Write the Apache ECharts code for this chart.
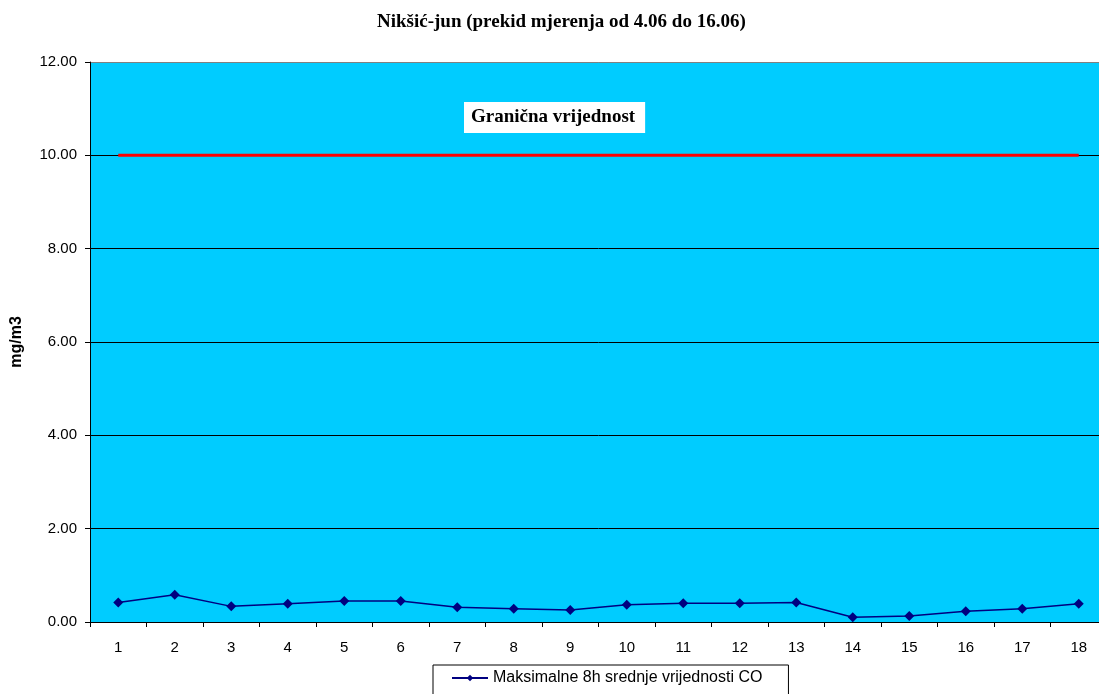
<!DOCTYPE html>
<html>
<head>
<meta charset="utf-8">
<script src="https://cdn.jsdelivr.net/npm/echarts@6/dist/echarts.min.js"></script>
<style>html,body{margin:0;padding:0;background:#fff;overflow:hidden;}#c{width:1107px;height:694px;}</style>
</head>
<body>
<div id="c"></div>
<script>
var categories = ['1','2','3','4','5','6','7','8','9','10','11','12','13','14','15','16','17','18'];
var coValues = [0.42,0.585,0.335,0.39,0.45,0.45,0.315,0.285,0.257,0.37,0.40,0.40,0.42,0.10,0.13,0.23,0.285,0.39];
var limitValues = [10,10,10,10,10,10,10,10,10,10,10,10,10,10,10,10,10,10];
var yTicks = [0,2,4,6,8,10,12];
var titleText = 'Nikšić-jun (prekid mjerenja od 4.06 do 16.06)';
var seriesName = 'Maksimalne 8h srednje vrijednosti CO';
var limitLabel = 'Granična vrijednost';
var yName = 'mg/m3';

var chart = echarts.init(document.getElementById('c'));
chart.setOption({
  animation: false,
  backgroundColor: '#ffffff',
  title: {
    text: titleText, left: 372, top: 8,
    textStyle: {fontFamily: 'Liberation Serif', fontWeight: 'bold', fontSize: 19, color: '#000'}
  },
  grid: {left: 90, top: 62, right: 0, height: 560, backgroundColor: '#00CCFF', show: true, borderWidth: 0},
  legend: {
    data: [{name: seriesName}],
    left: 433, top: 665,
    borderColor: '#000', borderWidth: 1, borderRadius: 0,
    padding: [5, 26, 12, 18],
    itemWidth: 36, itemHeight: 8, itemGap: 4,
    textStyle: {fontFamily: 'Liberation Sans', fontSize: 16, color: '#000'}
  },
  xAxis: {
    type: 'category', data: categories, boundaryGap: true,
    axisLine: {lineStyle: {color: '#000', width: 1}},
    axisTick: {show: true, length: 5, lineStyle: {color: '#000'}},
    axisLabel: {fontFamily: 'Liberation Sans', fontSize: 15, color: '#000', margin: 18}
  },
  yAxis: {
    type: 'value', min: yTicks[0], max: yTicks[yTicks.length-1], interval: 2,
    name: yName, nameLocation: 'middle', nameGap: 65, nameRotate: 90,
    nameTextStyle: {fontFamily: 'Liberation Sans', fontWeight: 'bold', fontSize: 16, color: '#000'},
    axisLine: {show: true, lineStyle: {color: '#000', width: 1}},
    axisTick: {show: true, length: 5, lineStyle: {color: '#000'}},
    axisLabel: {fontFamily: 'Liberation Sans', fontSize: 15, color: '#000', margin: 13,
      formatter: function (v) { return v.toFixed(2); }},
    splitLine: {show: true, lineStyle: {color: ['#000','#000','#000','#000','#000','#000','#808080'], width: 1}}
  },
  graphic: [{
    type: 'text', left: 464, top: 102, z: 100,
    style: {
      text: limitLabel, fill: '#000',
      font: 'bold 19px "Liberation Serif"',
      backgroundColor: '#fff', padding: [6, 10, 6, 7]
    }
  }],
  series: [
    {
      name: 'limit', type: 'line', data: limitValues, symbol: 'none',
      lineStyle: {color: '#FF0000', width: 3}, z: 3, silent: true
    },
    {
      name: seriesName, type: 'line', data: coValues,
      symbol: 'diamond', symbolSize: 10,
      itemStyle: {color: '#000080'},
      lineStyle: {color: '#000080', width: 1.5}, z: 4
    }
  ]
});
</script>
</body>
</html>
